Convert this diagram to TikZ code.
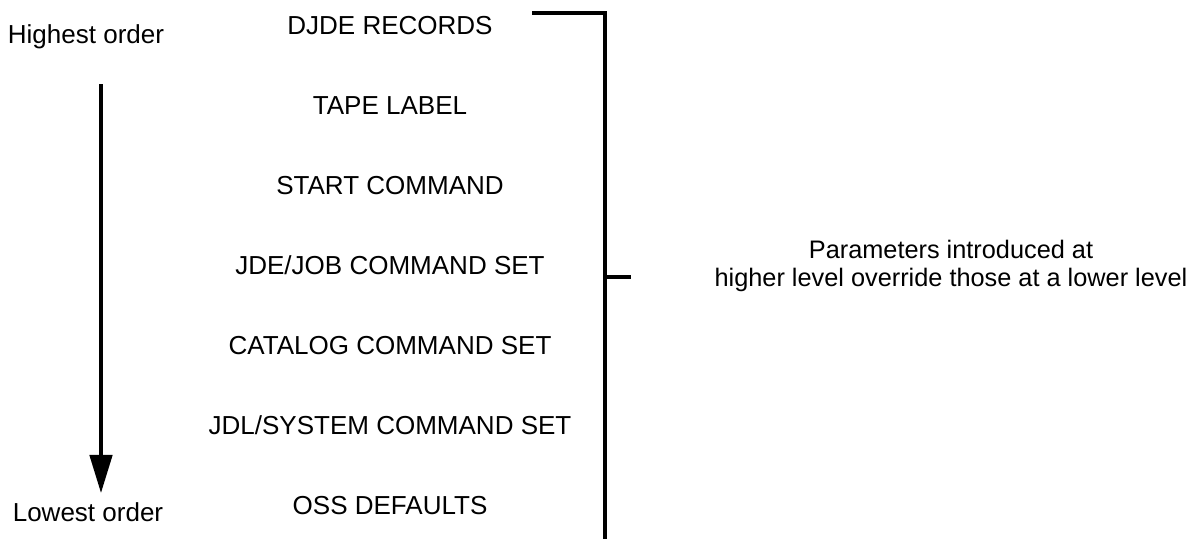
\documentclass[tikz,border=0pt]{standalone}
\usepackage{fontspec}
\setmainfont{Liberation Sans}
\usetikzlibrary{arrows.meta, positioning}
\tikzset{
  level/.style={inner sep=0pt, anchor=base, font=\fontsize{18.5}{22}\selectfont},
  rank/.style={inner sep=0pt, anchor=base, font=\fontsize{18.5}{22}\selectfont},
  note/.style={inner sep=0pt, align=center, font=\fontsize{18}{19.5}\selectfont},
  rule/.style={line width=2.4pt},
}

\begin{document}
\begin{tikzpicture}[x=0.025cm, y=-0.025cm]
  \useasboundingbox (0,0) rectangle (1203,539);

  % Order of precedence
  \node[rank] (high) at (86,43) {Highest order};
  \node[rank] (low) at (88,521) {Lowest order};
  \coordinate (arrtop) at (101,84);
  \coordinate (arrtip) at (101,493);
  \draw[rule, -{Triangle[length=0.95cm, width=0.56cm]}] (arrtop) -- (arrtip);

  % Parameter sources
  \node[level] (djde) at (390,34) {DJDE RECORDS};
  \node[level] (tape) at (390,114) {TAPE LABEL};
  \node[level] (start) at (390,194) {START COMMAND};
  \node[level] (jdejob) at (390,274) {JDE/JOB COMMAND SET};
  \node[level] (catalog) at (390,354) {CATALOG COMMAND SET};
  \node[level] (jdlsys) at (390,434) {JDL/SYSTEM COMMAND SET};
  \node[level] (oss) at (390,514) {OSS DEFAULTS};

  % Bracket
  \coordinate (brtop) at (532,13);
  \coordinate (brbot) at (605,539);
  \coordinate (brmid) at (605,277);
  \coordinate (brtick) at (631,277);
  \draw[rule] (brtop) -| (brbot);
  \draw[rule] (brmid) -- (brtick);

  \node[note] (override) at (951,266) {Parameters introduced at\\higher level override those at a lower level};
\end{tikzpicture}
\end{document}
